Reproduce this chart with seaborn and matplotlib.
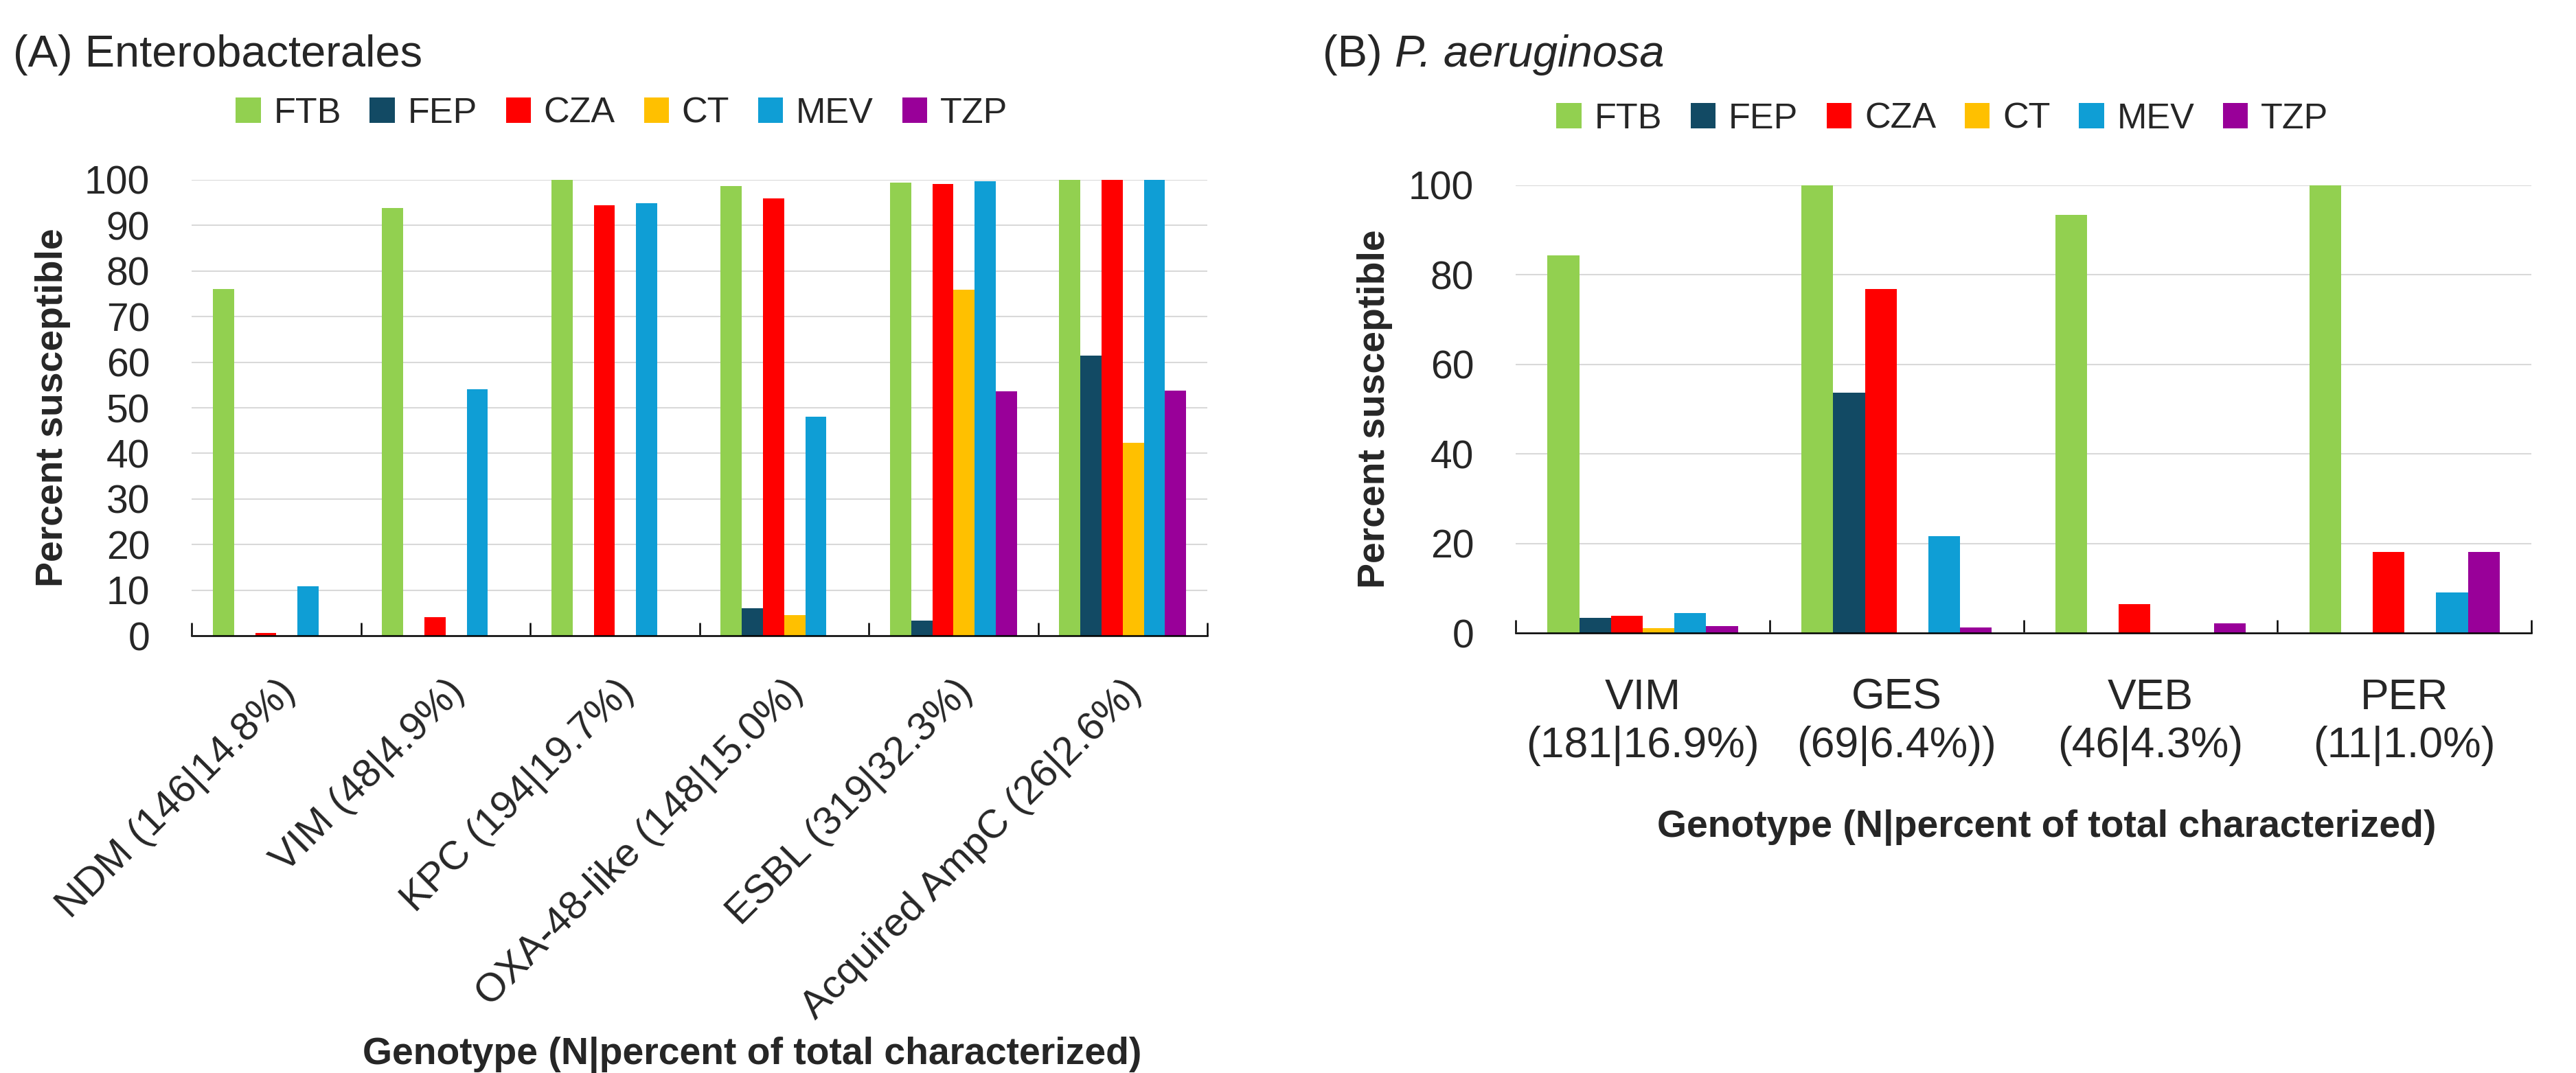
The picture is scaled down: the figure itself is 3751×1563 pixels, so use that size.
import matplotlib
matplotlib.use("Agg")
import matplotlib.pyplot as plt
import numpy as np
import pandas as pd
import seaborn as sns

sns.set_theme(style="white")
plt.rcParams["font.family"] = ["Liberation Sans", "DejaVu Sans"]

# Antibiotics and their colours
drugs = ["FTB", "FEP", "CZA", "CT", "MEV", "TZP"]
colors = ["#92D050", "#124A64", "#FF0000", "#FFC000", "#0F9ED5", "#990099"]

# (A) Enterobacterales
ent_genotypes = ["NDM (146|14.8%)", "VIM (48|4.9%)", "KPC (194|19.7%)",
                 "OXA-48-like (148|15.0%)", "ESBL (319|32.3%)", "Acquired AmpC (26|2.6%)"]
ent_ftb = [76.1, 93.8, 100, 98.6, 99.4, 100]
ent_fep = [0, 0, 0, 6.0, 3.3, 61.5]
ent_cza = [0.6, 4.1, 94.4, 95.9, 99.1, 100]
ent_ct = [0, 0, 0, 4.6, 75.9, 42.3]
ent_mev = [10.9, 54.1, 94.9, 48.0, 99.7, 100]
ent_tzp = [0, 0, 0, 0, 53.6, 53.8]

# (B) P. aeruginosa
pa_genotypes = ["VIM\n(181|16.9%)", "GES\n(69|6.4%))", "VEB\n(46|4.3%)", "PER\n(11|1.0%)"]
pa_ftb = [84.4, 100, 93.4, 100]
pa_fep = [3.3, 53.6, 0, 0]
pa_cza = [3.9, 76.8, 6.4, 18.1]
pa_ct = [1.1, 0, 0, 0]
pa_mev = [4.4, 21.7, 0, 9.1]
pa_tzp = [1.6, 1.3, 2.1, 18.1]


def to_long(genotypes, series):
    rows = []
    for drug, vals in zip(drugs, series):
        for g, v in zip(genotypes, vals):
            rows.append({"genotype": g, "drug": drug, "pct": v})
    return pd.DataFrame(rows)


df_ent = to_long(ent_genotypes, [ent_ftb, ent_fep, ent_cza, ent_ct, ent_mev, ent_tzp])
df_pa = to_long(pa_genotypes, [pa_ftb, pa_fep, pa_cza, pa_ct, pa_mev, pa_tzp])

fig = plt.figure(figsize=(3751 / 300, 1563 / 300), dpi=300)
ax_a = fig.add_axes([0.0744, 0.4075, 0.3943, 0.4249])
ax_b = fig.add_axes([0.5884, 0.4101, 0.3943, 0.4172])


def style_axis(ax, df, genotypes, yticks, xpad, xsize):
    sns.barplot(data=df, x="genotype", y="pct", hue="drug", order=genotypes,
                hue_order=drugs, palette=colors, saturation=1, width=0.75,
                linewidth=0, ax=ax, legend=True)
    n = len(genotypes)
    ax.set_xlim(-0.5, n - 0.5)
    ax.set_ylim(0, 100)
    ax.set_yticks(yticks)
    ax.yaxis.grid(True, color="#D9D9D9", linewidth=0.5)
    ax.set_axisbelow(True)
    for s in ["left", "top", "right"]:
        ax.spines[s].set_visible(False)
    ax.spines["bottom"].set_color("black")
    ax.spines["bottom"].set_linewidth(0.6)
    # tick marks sit between the genotype groups
    ax.set_xticks(np.arange(-0.5, n, 1), minor=True)
    ax.tick_params(axis="x", which="minor", bottom=True, length=4.5, width=0.6,
                   direction="in", color="black")
    ax.tick_params(axis="x", which="major", length=0, pad=xpad, labelsize=xsize)
    ax.tick_params(axis="y", length=0, pad=14.6, labelsize=13.7)
    ax.set_ylabel("Percent susceptible", fontsize=13.3, fontweight="bold")
    ax.set_xlabel("Genotype (N|percent of total characterized)",
                  fontsize=13.3, fontweight="bold")
    handles, labels = ax.get_legend_handles_labels()
    ax.get_legend().remove()
    return handles, labels


h, l = style_axis(ax_a, df_ent, ent_genotypes, np.arange(0, 101, 10), 13, 14.0)
for lab in ax_a.get_xticklabels():
    lab.set_rotation(45)
    lab.set_ha("right")
    lab.set_rotation_mode("anchor")
ax_a.xaxis.set_label_coords(0.552, -0.879)
ax_a.yaxis.set_label_coords(-0.119, 0.5)

style_axis(ax_b, df_pa, pa_genotypes, np.arange(0, 101, 20), 15.5, 15)
for lab in ax_b.get_xticklabels():
    lab.set_linespacing(1.25)
ax_b.xaxis.set_label_coords(0.523, -0.394)
ax_b.yaxis.set_label_coords(-0.121, 0.5)

legend_kw = dict(loc="center", ncol=6, frameon=False, fontsize=12.5,
                 handlelength=0.7, handleheight=0.7, handletextpad=0.36,
                 columnspacing=0.8, borderpad=0)
fig.legend(h, l, bbox_to_anchor=(0.2413, 0.8944), **legend_kw)
fig.legend(h, l, bbox_to_anchor=(0.754, 0.8893), **legend_kw)

# Panel titles
fig.text(0.005, 1 - 97 / 1563, "(A) Enterobacterales", fontsize=15.6, va="baseline")
tb = fig.text(0.5135, 1 - 97 / 1563, "(B)", fontsize=15.6, va="baseline")
ax_b.annotate("P. aeruginosa", xy=(1, 0), xycoords=tb, xytext=(4.3, 0),
              textcoords="offset points", fontsize=15.6, fontstyle="italic",
              va="bottom", ha="left", annotation_clip=False)

fig.savefig("out.png", dpi=300)
